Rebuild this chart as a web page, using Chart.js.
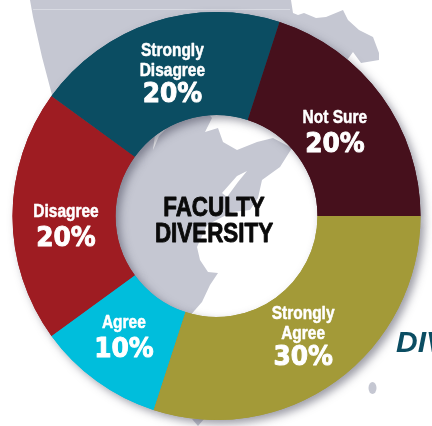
<!DOCTYPE html>
<html>
<head>
<meta charset="utf-8">
<style>
  html, body { margin: 0; padding: 0; background: #fff; overflow: hidden; }
  canvas { display: block; }
</style>
<script src="https://cdn.jsdelivr.net/npm/chart.js@4"></script>
</head>
<body>
<canvas id="my-chart" width="432" height="426"></canvas>
<script>
const categories = ["Strongly Agree", "Agree", "Disagree", "Strongly Disagree", "Not Sure"];
const values = [30, 10, 20, 20, 20];
const sliceColors = ["#a39a38", "#00bedc", "#9e1c22", "#0b4d62", "#46101c"];
const labelLines = [["Strongly", "Agree"], ["Agree"], ["Disagree"], ["Strongly", "Disagree"], ["Not Sure"]];
const centerTitle = ["FACULTY", "DIVERSITY"];

// grey map behind the ring, just decoration
const land = [
  [[30, 0], [291, 0], [293, 13], [298, 15], [304, 13], [316, 18], [326, 17], [343, 10], [348, 20], [359, 30], [373, 37], [379, 53], [379, 60], [361, 63], [353, 52], [340, 70], [120, 130], [52, 95], [42, 57], [33, 17]],
  [[188, 318], [100, 318], [100, 110], [205, 110], [212, 118], [205, 132], [218, 128], [223, 142], [237, 150], [257, 142], [273, 138], [292, 148], [280, 167], [262, 180], [258, 198], [250, 210], [232, 212], [207, 225], [197, 247], [200, 260], [208, 272], [218, 273], [210, 285], [202, 302]],
  [[192, 419], [204, 419], [198, 426]],
];
const landGaps = [
  [[247, 171], [237, 176], [222, 193], [227, 197], [238, 182]],
  [[153, 150], [155, 135], [167, 128], [159, 136]],
];

function fillShape(ctx, shape) {
  ctx.beginPath();
  shape.forEach(([x, y], i) => (i ? ctx.lineTo(x, y) : ctx.moveTo(x, y)));
  ctx.closePath();
  ctx.fill();
}

const mapBackdrop = {
  id: "mapBackdrop",
  beforeDraw(chart) {
    const ctx = chart.ctx;
    ctx.save();
    ctx.fillStyle = "#c5c7d2";
    land.forEach((shape) => fillShape(ctx, shape));
    ctx.beginPath();
    ctx.ellipse(372.5, 388, 4, 6, 0, 0, Math.PI * 2);
    ctx.fill();
    ctx.fillStyle = "#fff";
    landGaps.forEach((shape) => fillShape(ctx, shape));
    ctx.strokeStyle = "#d8dae2";
    ctx.beginPath();
    ctx.moveTo(33, 9.5);
    ctx.lineTo(290, 9.5);
    ctx.stroke();
    ctx.restore();
  },
};

// soft shadow for the whole ring, drawn first so slices don't shade each other
const ringShadow = {
  id: "ringShadow",
  beforeDatasetDraw(chart) {
    const ctx = chart.ctx;
    ctx.save();
    ctx.shadowColor = "rgba(60,60,80,0.5)";
    ctx.shadowBlur = 9;
    ctx.shadowOffsetX = 4;
    ctx.shadowOffsetY = 4;
    chart.getDatasetMeta(0).data.forEach((arc) => arc.draw(ctx));
    ctx.restore();
  },
};

// shifts from the middle of each slice to the percent text
const labelNudge = [[-3, 19], [-3, 11], [2, 23], [3, 24], [-5, 19]];

// narrower than the font's own width, with a thin outline to fatten it up
function squeezed(ctx, text, x, y, ratio, weight) {
  const maxWidth = ctx.measureText(text).width * ratio;
  ctx.lineWidth = weight;
  ctx.lineJoin = "round";
  ctx.strokeText(text, x, y, maxWidth);
  ctx.fillText(text, x, y, maxWidth);
}

const sliceLabels = {
  id: "sliceLabels",
  afterDatasetsDraw(chart) {
    const ctx = chart.ctx;
    const arcs = chart.getDatasetMeta(0).data;
    ctx.save();
    ctx.textAlign = "center";
    ctx.textBaseline = "middle";
    ctx.fillStyle = "#fff";
    ctx.strokeStyle = "#fff";
    arcs.forEach((arc, i) => {
      const p = arc.tooltipPosition();
      const lines = labelLines[i];
      const x = p.x + labelNudge[i][0];
      const y = p.y + labelNudge[i][1];
      const gap = lines.length > 1 ? 24 : 27;
      ctx.font = 'bold 18px "Liberation Sans"';
      lines.forEach((line, n) => {
        squeezed(ctx, line, x, y - gap - (lines.length - 1 - n) * 20, 0.86, 0.5);
      });
      ctx.font = 'bold 27px "DejaVu Sans"';
      squeezed(ctx, values[i] + "%", x, y, 0.92, 1);
    });

    ctx.fillStyle = "#0a0a0a";
    ctx.strokeStyle = "#0a0a0a";
    ctx.font = 'bold 28px "Liberation Sans"';
    centerTitle.forEach((line, n) => squeezed(ctx, line, 214, 208.5 + n * 26, 0.8, 0.9));

    ctx.fillStyle = "#0b4d62";
    ctx.textAlign = "left";
    ctx.font = 'italic bold 30px "Liberation Sans"';
    ctx.fillText("DIVERSITY", 396, 344);
    ctx.restore();
  },
};

new Chart(document.getElementById("my-chart"), {
  type: "doughnut",
  data: {
    labels: categories,
    datasets: [
      {
        data: values,
        backgroundColor: sliceColors,
        borderWidth: 0,
      },
    ],
  },
  options: {
    responsive: false,
    animation: false,
    rotation: 90,
    cutout: "49.5%",
    layout: {
      padding: { left: 12, right: 11, top: 12, bottom: 6 },
    },
    plugins: {
      legend: { display: false },
      tooltip: { enabled: false },
    },
  },
  plugins: [mapBackdrop, ringShadow, sliceLabels],
});
</script>
</body>
</html>
